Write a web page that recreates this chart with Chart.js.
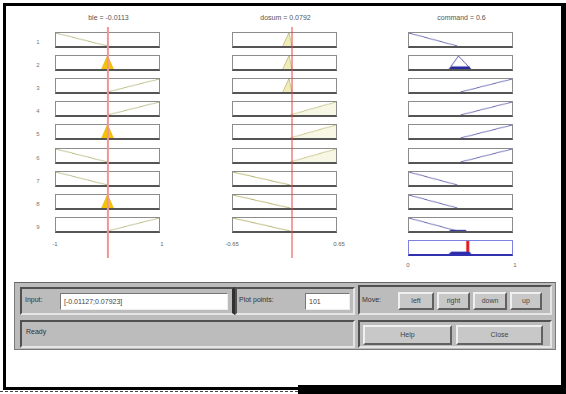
<!DOCTYPE html>
<html>
<head>
<meta charset="utf-8">
<script src="https://cdn.jsdelivr.net/npm/chart.js@4"></script>
<style>
  html, body { margin: 0; padding: 0; background: #fff; }
  #page { position: relative; width: 566px; height: 394px; overflow: hidden; font-family: "Liberation Sans", Arial, sans-serif; }
  .abs { position: absolute; }
  .txt { position: absolute; font-size: 7px; color: #555; white-space: nowrap; line-height: 8px; }
  .box { position: absolute; border: 1px solid #8c8c8c; border-bottom: 2px solid #555; box-sizing: content-box; }
  .agg { position: absolute; border: 1px solid #8080e0; border-bottom: 2px solid #3030b0; box-sizing: content-box; }
  .over { position: absolute; pointer-events: none; }
  .panel { position: absolute; background: #bcbcbc; box-sizing: border-box; }
  .inset { position: absolute; box-sizing: border-box; border: 2px solid; border-color: #505050 #e6e6e6 #e6e6e6 #505050; background: #bcbcbc; }
  .field { position: absolute; background: #fff; box-sizing: border-box; border: 1px solid; border-color: #777 #eee #eee #777; font-size: 7px; color: #444; padding-left: 3px; line-height: 15px; }
  .btn { position: absolute; box-sizing: border-box; background: #c8c8c8; border: 2px solid; border-color: #f0f0f0 #606060 #606060 #f0f0f0; font-size: 7px; color: #444; text-align: center; }
</style>
</head>
<body>
<div id="page"></div>
<script>
// ---- values ----
const titles = ['ble = -0.0113', 'dosum = 0.0792', 'command = 0.6'];
const inputValues = [-0.0113, 0.0792];
const outputValue = 0.57;
const ruleLabels = ['1', '2', '3', '4', '5', '6', '7', '8', '9'];
const bleTicks = ['-1', '1'];
const dosumTicks = ['-0.65', '0.65'];
const commandTicks = ['0', '1'];
const bleRange = [-1, 1];
const dosumRange = [-0.65, 0.65];
const commandRange = [0, 1];

// membership function vertices [x, mu] (flat zero parts hidden by the box edge)
const bleLow = [[-1, 1], [0, 0]];
const bleZero = [[-0.11, 0], [0, 1], [0.11, 0]];
const bleHigh = [[0, 0], [1, 1]];
const dosumLow = [[-0.65, 1], [0.07, 0]];
const dosumZero = [[-0.02, 0], [0.055, 1], [0.09, 0]];
const dosumHigh = [[0.07, 0], [0.65, 1]];
const cmdLow = [[0, 1], [0.47, 0]];
const cmdMid = [[0.39, 0], [0.48, 1], [0.6, 0]];
const cmdHigh = [[0.5, 0], [1, 1]];

// rules
const ruleBle = ['low', 'zero', 'high', 'high', 'zero', 'low', 'low', 'zero', 'high'];
const ruleDosum = ['zero', 'zero', 'zero', 'high', 'high', 'high', 'low', 'low', 'low'];
const ruleCmd = ['low', 'mid', 'high', 'high', 'high', 'high', 'low', 'low', 'low'];

// shaded (fired) areas
const bleZeroFill = [[-0.11, 0], [-0.01, 0.92], [0.01, 0.92], [0.11, 0]];
const dosumZeroFill = [[-0.02, 0], [0.055, 1], [0.09, 0]];
const dosumHighFill = [[0.07, 0], [0.65, 1], [0.65, 0]];
const cmdMidFill = [[0.39, 0], [0.41, 0.2], [0.585, 0.2], [0.6, 0]];
const cmdLowFill = [[0.39, 0], [0.4, 0.08], [0.55, 0.08], [0.56, 0]];
const aggFill = [[0.39, 0], [0.41, 0.16], [0.585, 0.16], [0.6, 0]];

const bleMf = { low: bleLow, zero: bleZero, high: bleHigh };
const dosumMf = { low: dosumLow, zero: dosumZero, high: dosumHigh };
const cmdMf = { low: cmdLow, mid: cmdMid, high: cmdHigh };
const bleFill = { zero: bleZeroFill };
const dosumFill = { zero: dosumZeroFill, high: dosumHighFill };
const cmdFillByRule = [null, cmdMidFill, null, null, null, null, null, null, cmdLowFill];

// ---- layout ----
const colX = [55, 232, 408];
const boxW = 107;
const boxH = 19;
const rowTop = [32, 55, 78, 101, 124, 148, 171, 194, 217];
const aggTop = 240;
const page = document.getElementById('page');

function el(tag, cls, css, text) {
    const e = document.createElement(tag);
    if (cls) e.className = cls;
    if (css) e.style.cssText = css;
    if (text !== undefined) e.textContent = text;
    page.appendChild(e);
    return e;
}

function toXY(pts) {
    return pts.map(([x, y]) => ({ x, y }));
}

function makeChart(canvas, range, datasets) {
    return new Chart(canvas.getContext('2d'), {
        type: 'line',
        data: { datasets },
        options: {
            responsive: false,
            animation: false,
            devicePixelRatio: 1,
            events: [],
            layout: { padding: 0 },
            elements: { point: { radius: 0 }, line: { tension: 0 } },
            plugins: { legend: { display: false }, tooltip: { enabled: false } },
            scales: {
                x: { type: 'linear', min: range[0], max: range[1], display: false },
                y: { type: 'linear', min: 0, max: 1, display: false }
            }
        }
    });
}

function boxCanvas(left, top, cls) {
    const w = boxW - 2, h = boxH - 3;
    const c = el('canvas', cls, `left:${left}px;top:${top}px;width:${w}px;height:${h}px`);
    c.width = w; c.height = h;
    return c;
}

function mfSets(mf, fill, lineColor, fillColor) {
    const sets = [];
    if (fill) {
        sets.push({ data: toXY(fill), fill: 'origin', backgroundColor: fillColor, borderWidth: 0, pointRadius: 0 });
    }
    sets.push({ data: toXY(mf), fill: false, borderColor: lineColor, borderWidth: 1, pointRadius: 0 });
    return sets;
}

// frame
el('div', 'abs', 'left:3px;top:3px;width:555px;height:381px;border-top:3px solid #000;border-left:3px solid #000;border-right:5px solid #000;border-bottom:3px solid #000;');
el('div', 'abs', 'left:298px;top:385px;width:268px;height:9px;background:#000;');
el('div', 'abs', 'left:0px;top:391px;width:298px;height:0;border-top:1px dashed #444;');

// titles, row labels, ticks
titles.forEach((t, i) => {
    el('div', 'txt', `left:${colX[i]}px;top:14px;width:${boxW}px;text-align:center;`, t);
});
ruleLabels.forEach((lab, r) => {
    el('div', 'txt', `left:34px;top:${rowTop[r] + 6}px;width:8px;text-align:center;color:#777;font-size:6px;`, lab);
});
[[bleTicks, 0, 240], [dosumTicks, 1, 240], [commandTicks, 2, 261]].forEach(([ticks, i, y]) => {
    el('div', 'txt', `left:${colX[i] - 20}px;top:${y}px;width:40px;text-align:center;font-size:6px;color:#666;`, ticks[0]);
    el('div', 'txt', `left:${colX[i] + boxW - 20}px;top:${y}px;width:40px;text-align:center;font-size:6px;color:#666;`, ticks[1]);
});

// rule rows
ruleLabels.forEach((lab, r) => {
    const b = ruleBle[r], d = ruleDosum[r];
    makeChart(boxCanvas(colX[0], rowTop[r], 'box'), bleRange,
        mfSets(bleMf[b], bleFill[b], b === 'zero' ? '#d8a400' : '#b4b47c', '#f4c400'));
    makeChart(boxCanvas(colX[1], rowTop[r], 'box'), dosumRange,
        mfSets(dosumMf[d], dosumFill[d], '#b0aa60', d === 'zero' ? 'rgba(238,232,170,0.8)' : 'rgba(242,242,214,0.6)'));
    makeChart(boxCanvas(colX[2], rowTop[r], 'box'), commandRange,
        mfSets(cmdMf[ruleCmd[r]], cmdFillByRule[r], '#5a5aaa', '#2a2aa0'));
});

// aggregate output
makeChart(boxCanvas(colX[2], aggTop, 'agg'), commandRange, [
    { data: toXY(aggFill), fill: 'origin', backgroundColor: '#2a2aa8', borderColor: '#3a3ab8', borderWidth: 1, pointRadius: 0 },
    { data: toXY([[outputValue, 0], [outputValue, 1]]), fill: false, borderColor: '#e01818', borderWidth: 3, pointRadius: 0 }
]);

// red input lines across each input column
[['#f29494', 2], ['#e84444', 1]].forEach(([color, width], i) => {
    const c = el('canvas', 'over', `left:${colX[i]}px;top:27px;width:${boxW}px;height:231px`);
    c.width = boxW; c.height = 231;
    makeChart(c, i === 0 ? bleRange : dosumRange, [
        { data: toXY([[inputValues[i], 0], [inputValues[i], 1]]), fill: false, borderColor: color, borderWidth: width, pointRadius: 0 }
    ]);
});

// bottom control panel
el('div', 'panel', 'left:14px;top:282px;width:542px;height:68px;border:1px solid #7a7a7a;border-top-color:#666;');
el('div', 'inset', 'left:20px;top:287px;width:215px;height:28px;border-right:3px solid #303030;');
el('div', 'txt', 'left:25px;top:296px;color:#333;', 'Input:');
el('div', 'field', 'left:60px;top:293px;width:168px;height:17px;', '[-0.01127;0.07923]');
el('div', 'inset', 'left:235px;top:287px;width:120px;height:28px;');
el('div', 'txt', 'left:239px;top:296px;color:#333;', 'Plot points:');
el('div', 'field', 'left:305px;top:293px;width:45px;height:17px;', '101');
el('div', 'inset', 'left:358px;top:285px;width:194px;height:30px;');
el('div', 'txt', 'left:362px;top:296px;color:#333;', 'Move:');
[['left', 398, 36], ['right', 437, 33], ['down', 473, 34], ['up', 510, 32]].forEach(([t, x, w]) => {
    el('div', 'btn', `left:${x}px;top:292px;width:${w}px;height:18px;line-height:14px;`, t);
});
el('div', 'inset', 'left:20px;top:320px;width:335px;height:28px;');
el('div', 'txt', 'left:26px;top:328px;color:#333;', 'Ready');
el('div', 'inset', 'left:358px;top:320px;width:194px;height:28px;');
el('div', 'btn', 'left:363px;top:325px;width:89px;height:20px;line-height:16px;', 'Help');
el('div', 'btn', 'left:456px;top:325px;width:87px;height:20px;line-height:16px;', 'Close');
</script>
</body>
</html>
